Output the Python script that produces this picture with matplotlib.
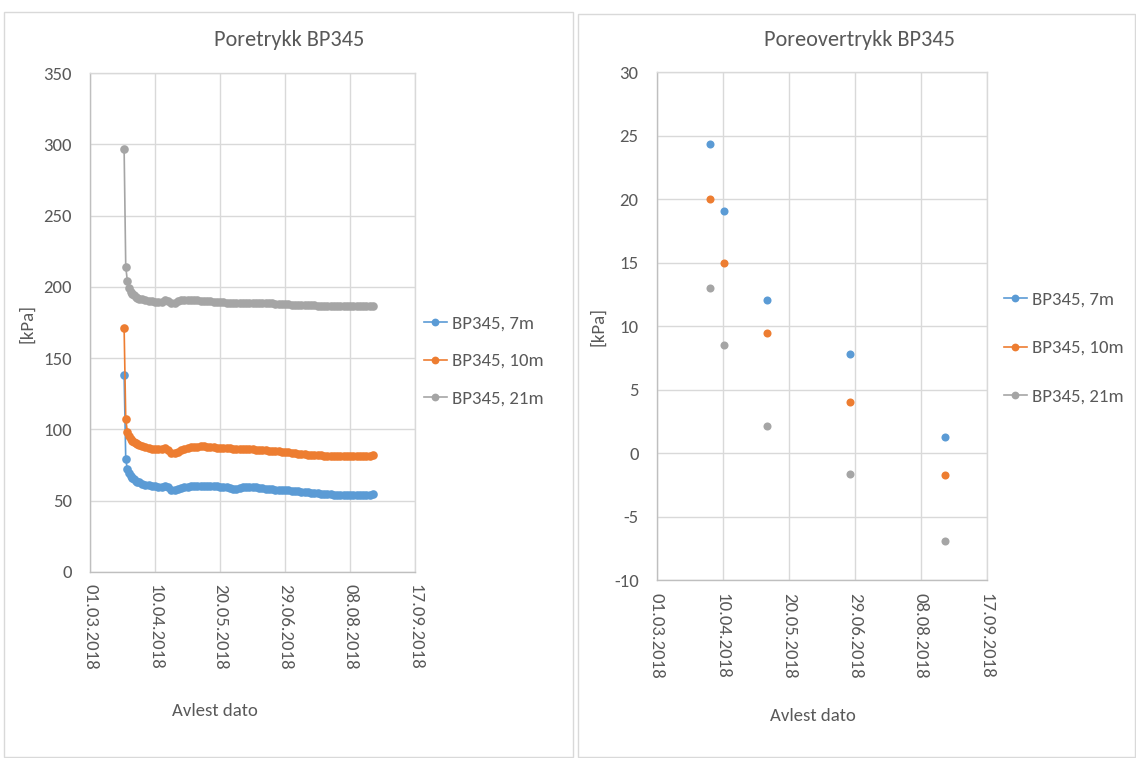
import matplotlib
matplotlib.use("Agg")
import matplotlib.pyplot as plt
import matplotlib.dates as mdates
from matplotlib.patches import Rectangle
from matplotlib.lines import Line2D
from matplotlib import font_manager
import pandas as pd

# ---------------- data ----------------
series_names = ["BP345, 7m", "BP345, 10m", "BP345, 21m"]
colors = ["#5B9BD5", "#ED7D31", "#A5A5A5"]

# left chart: reading dates (daily first, then every 2nd day)
dates_daily = pd.date_range("2018-03-22", "2018-03-31", freq="D")
dates_2d = pd.date_range("2018-04-02", "2018-08-22", freq="2D")
dates_left = dates_daily.append(dates_2d)

p7 = [138, 79, 72, 69.5, 67.5, 66, 65, 64, 63.3, 62.8,
      62, 61.3, 60.8, 60.3, 60, 59.8, 59.7, 60.2, 59.5, 57.8,
      57.6, 58.2, 58.8, 59.3, 59.7, 60, 60.2, 60.4, 60.5, 60.5,
      60.3, 60.3, 60.2, 60, 59.8, 59.6, 59.3, 58.8, 58.3, 58.2,
      58.8, 59.5, 59.8, 59.7, 59.5, 59.3, 59, 58.7, 58.3, 58,
      57.9, 57.8, 57.8, 57.6, 57.4, 57.2, 57, 56.8, 56.5, 56.3,
      56, 55.8, 55.6, 55.3, 55.2, 55, 54.9, 54.7, 54.5, 54.3,
      54.2, 54.1, 54, 54, 53.9, 53.8, 53.8, 53.7, 53.7, 53.8,
      54.2, 55]
p10 = [171, 107.5, 98, 95.5, 93.5, 92, 91, 90.2, 89.5, 89,
       88.3, 87.6, 87, 86.6, 86.3, 86, 86, 86.8, 85.5, 83.8,
       83.6, 84.5, 85.5, 86.3, 87, 87.4, 87.7, 88, 88.2, 88.2,
       88, 87.8, 87.5, 87.2, 87, 86.9, 86.8, 86.7, 86.6, 86.5,
       86.4, 86.3, 86.2, 86.1, 86, 85.8, 85.6, 85.5, 85.4, 85.2,
       85, 84.8, 84.6, 84.4, 84.2, 84, 83.7, 83.4, 83.1, 82.8,
       82.5, 82.3, 82.2, 82, 81.9, 81.8, 81.7, 81.6, 81.5, 81.5,
       81.4, 81.4, 81.3, 81.3, 81.3, 81.3, 81.3, 81.3, 81.4, 81.4,
       81.5, 81.8]
p21 = [296.5, 214, 204, 199, 196.5, 195, 194, 193, 192.3, 191.8,
       191.2, 190.7, 190.3, 190, 189.7, 189.5, 189.5, 190.5, 190, 188.8,
       189, 190, 190.5, 190.8, 191, 190.9, 190.8, 190.6, 190.4, 190.2,
       190, 189.9, 189.7, 189.5, 189.3, 189.2, 189, 188.9, 188.8, 188.7,
       188.6, 188.5, 188.5, 188.6, 188.7, 188.8, 188.9, 188.9, 188.8, 188.6,
       188.4, 188.2, 188, 187.9, 187.8, 187.7, 187.6, 187.5, 187.4, 187.3,
       187.2, 187.1, 187, 187, 186.9, 186.8, 186.8, 186.7, 186.7, 186.6,
       186.6, 186.6, 186.6, 186.6, 186.6, 186.6, 186.6, 186.6, 186.6, 186.6,
       186.7, 186.8]

# right chart: excess pore pressure
dates_right = pd.to_datetime(["2018-04-02", "2018-04-11", "2018-05-07",
                              "2018-06-26", "2018-08-23"])
o7 = [24.4, 19.1, 12.1, 7.85, 1.3]
o10 = [20.0, 15.0, 9.5, 4.05, -1.7]
o21 = [13.0, 8.5, 2.15, -1.6, -6.9]

x_ticks = pd.to_datetime(["2018-03-01", "2018-04-10", "2018-05-20",
                          "2018-06-29", "2018-08-08", "2018-09-17"])
left_yticks = [0, 50, 100, 150, 200, 250, 300, 350]
right_yticks = [-10, -5, 0, 5, 10, 15, 20, 25, 30]

# ---------------- style ----------------
avail = {f.name for f in font_manager.fontManager.ttflist}
fam = [f for f in ["Carlito", "Liberation Sans Narrow", "Open Sans", "DejaVu Sans"] if f in avail]
plt.rcParams["font.family"] = fam
plt.rcParams["axes.unicode_minus"] = False
TXT = "#595959"
GRID = "#D9D9D9"
FS = 13.5

fig = plt.figure(figsize=(11.36, 7.58), dpi=100)
W, H = 1136, 758

def fx(px):
    return px / W

def fy(py):
    return 1 - py / H

# panel borders
for (x0, y0, x1, y1) in [(4, 12, 573, 757), (578, 14, 1135, 757)]:
    fig.patches.append(Rectangle((fx(x0), fy(y1)), fx(x1 - x0), (y1 - y0) / H,
                                 transform=fig.transFigure, fill=False,
                                 edgecolor=GRID, linewidth=1.0))

def style_axes(ax, yticks):
    ax.set_xlim(x_ticks[0], x_ticks[-1])
    ax.set_xticks(x_ticks)
    ax.xaxis.set_major_formatter(mdates.DateFormatter("%d.%m.%Y"))
    ax.set_ylim(yticks[0], yticks[-1])
    ax.set_yticks(yticks)
    ax.grid(True, color=GRID, linewidth=1.0)
    ax.set_axisbelow(True)
    for s in ax.spines.values():
        s.set_color(GRID)
        s.set_linewidth(1.0)
    ax.spines["left"].set_color("#BFBFBF")
    ax.spines["bottom"].set_color("#BFBFBF")
    ax.tick_params(axis="both", length=0, colors=TXT, labelsize=FS)
    ax.tick_params(axis="y", pad=13)
    ax.tick_params(axis="x", pad=9)
    for lab in ax.get_xticklabels():
        lab.set_rotation(-90)
        lab.set_ha("center")
        lab.set_va("top")

# left chart
axL = fig.add_axes([fx(90), fy(572), fx(415 - 90), (572 - 73) / H])
for vals, c in zip([p7, p10, p21], colors):
    axL.plot(dates_left, vals, color=c, linewidth=1.2, marker="o",
             markersize=6.2, markeredgewidth=0)
style_axes(axL, left_yticks)

# right chart
axR = fig.add_axes([fx(656.7), fy(580.3), fx(986.7 - 656.7), (580.3 - 72.4) / H])
for vals, c in zip([o7, o10, o21], colors):
    axR.plot(dates_right, vals, linestyle="none", color=c, marker="o",
             markersize=5.8, markeredgewidth=0)
style_axes(axR, right_yticks)

# titles and axis labels
fig.text(fx(289), fy(40), "Poretrykk BP345", ha="center", va="center",
         fontsize=16, color=TXT)
fig.text(fx(860), fy(40), "Poreovertrykk BP345", ha="center", va="center",
         fontsize=16, color=TXT)
fig.text(fx(27), fy(323), "[kPa]", rotation=90, ha="center", va="center",
         fontsize=FS, color=TXT)
fig.text(fx(598), fy(327), "[kPa]", rotation=90, ha="center", va="center",
         fontsize=FS, color=TXT)
fig.text(fx(215), fy(711), "Avlest dato", ha="center", va="center",
         fontsize=FS, color=TXT)
fig.text(fx(813), fy(716), "Avlest dato", ha="center", va="center",
         fontsize=FS, color=TXT)

handles = [Line2D([], [], color=c, linewidth=1.2, marker="o", markersize=5.6,
                  markeredgewidth=0) for c in colors]
fig.legend(handles, series_names, loc="center left",
           bbox_to_anchor=(fx(424), fy(361)), frameon=False, fontsize=FS,
           handlelength=1.2, handletextpad=0.3, labelspacing=1.15,
           borderpad=0, borderaxespad=0, labelcolor=TXT)
fig.legend(handles, series_names, loc="center left",
           bbox_to_anchor=(fx(1004), fy(348)), frameon=False, fontsize=FS,
           handlelength=1.2, handletextpad=0.3, labelspacing=1.73,
           borderpad=0, borderaxespad=0, labelcolor=TXT)

fig.savefig("out.png", dpi=100)
